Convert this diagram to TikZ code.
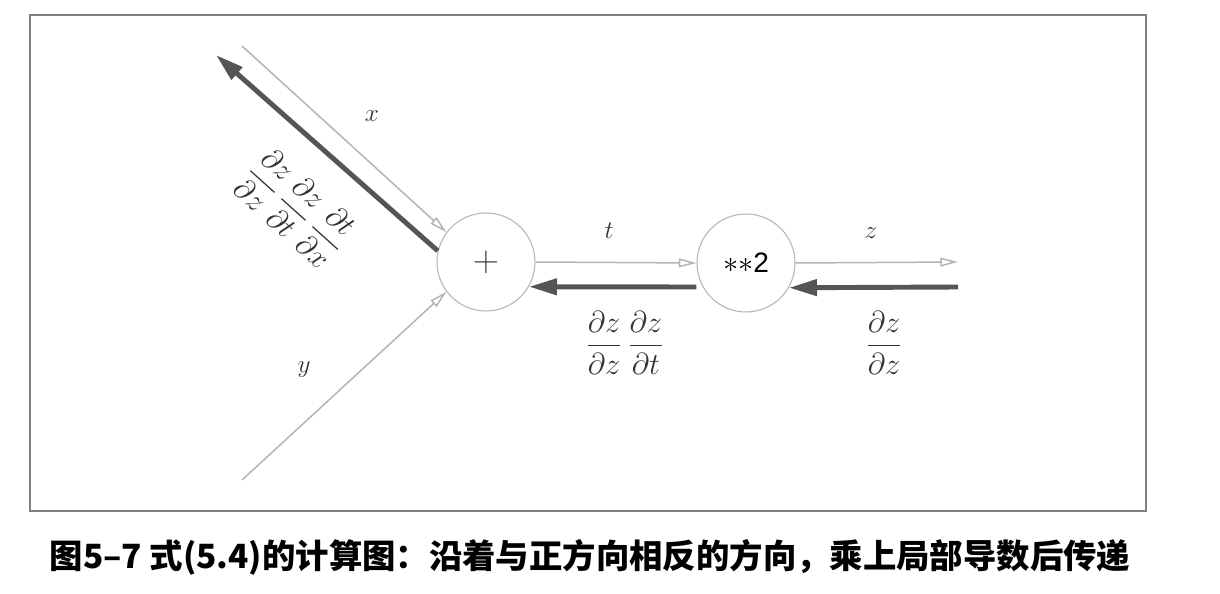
\documentclass[tikz,border=0pt]{standalone}
\usepackage{amsmath,amssymb}
\usepackage{fontspec}
\setsansfont{Liberation Sans}
\newfontfamily\cjk{Noto Sans CJK SC}
\usetikzlibrary{arrows.meta,calc}
\definecolor{fwdgray}{HTML}{B4B4B4}
\definecolor{bwdgray}{HTML}{555555}
\definecolor{framegray}{HTML}{808080}

\begin{document}
\begin{tikzpicture}[x=0.02cm, y=-0.02cm,
  op/.style={draw=fwdgray, line width=0.6pt, circle, minimum size=1.96cm, inner sep=0pt},
  fwd/.style={draw=fwdgray, line width=0.85pt, -{Triangle[open, length=10pt, width=5pt]}},
  bwd/.style={draw=bwdgray, line width=2.8pt, -{Triangle[length=16pt, width=9pt]}},
  lbl/.style={font=\fontsize{15}{18}\selectfont, text=black!80},
  frac/.style={font=\fontsize{17.5}{21}\selectfont, text=black!80}]
\useasboundingbox (0,0) rectangle (1220,594);
\draw[framegray, line width=1.2pt] (30,15) rectangle (1146,511);
% nodes of the graph
\node[op, font=\fontsize{20}{24}\selectfont, text=black!75] (plus) at (486,262) {$+$};
\node[op, font=\sffamily\fontsize{16}{19}\selectfont] (sq) at (746,263) {${*}{*}$2};
\coordinate (xin) at (242,46);
\coordinate (yin) at (242,480);
\coordinate (xout) at (216,55);
\coordinate (zout) at (958,262);
\coordinate (zin) at (958,287);
% forward pass
\path
(xin) edge[fwd] (plus.143)
(yin) edge[fwd] (plus.-143)
(plus.east) edge[fwd] (sq.west)
(sq.east) edge[fwd] (zout)
;
% backward pass
\path
(zin) edge[bwd] (sq.-30)
($(sq.west)+(0,24)$) edge[bwd] (plus.-30)
(plus.167) edge[bwd] (xout)
;
% labels
\node[lbl] (xl) at (372,116) {$x$};
\node[lbl] (yl) at (304,370) {$y$};
\node[lbl] (tl) at (609,231) {$t$};
\node[lbl] (zl) at (871,233) {$z$};
\node[frac] (dzt) at (625,343) {$\dfrac{\partial z}{\partial z}\,\dfrac{\partial z}{\partial t}$};
\node[frac] (dzz) at (884,343) {$\dfrac{\partial z}{\partial z}$};
\node[frac, rotate=-42] (dzx) at (296,208) {$\dfrac{\partial z}{\partial z}\,\dfrac{\partial z}{\partial t}\,\dfrac{\partial t}{\partial x}$};
\node[font=\cjk\bfseries\fontsize{19}{23}\selectfont] (cap) at (590,557) {图5–7 式(5.4)的计算图：沿着与正方向相反的方向，乘上局部导数后传递};
\end{tikzpicture}
\end{document}
